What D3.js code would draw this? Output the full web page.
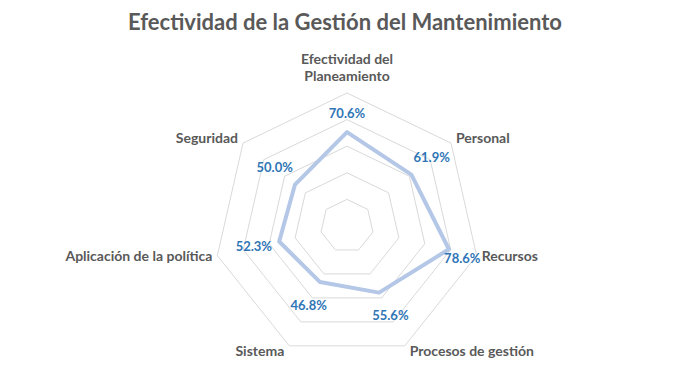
<!DOCTYPE html>
<html>
<head>
<meta charset="utf-8">
<script src="https://cdn.jsdelivr.net/npm/d3@7"></script>
<style>
  body { margin: 0; background: #fff; }
  svg text { font-family: Lato, "Open Sans", sans-serif; }
</style>
</head>
<body>
<svg id="chart" width="697" height="375"></svg>
<script>
// categories and values
const categories = ["Efectividad del Planeamiento", "Personal", "Recursos", "Procesos de gestión",
                    "Sistema", "Aplicación de la política", "Seguridad"];
const catLines = [["Efectividad del", "Planeamiento"], ["Personal"], ["Recursos"], ["Procesos de gestión"],
                  ["Sistema"], ["Aplicación de la política"], ["Seguridad"]];
const values = [0.706, 0.619, 0.786, 0.556, 0.468, 0.523, 0.500];
const gridLevels = [0.2, 0.4, 0.6, 0.8, 1.0];
const chartTitle = "Efectividad de la Gestión del Mantenimiento";

const cx = 347, cy = 226, R = 133;
const svg = d3.select("#chart");

var r = d3.scaleLinear().domain([0, 1]).range([0, R]);
var angle = d3.scaleLinear().domain([0, categories.length]).range([-Math.PI / 2, 1.5 * Math.PI]);

function pt(i, v) {
    return [cx + r(v) * Math.cos(angle(i)), cy + r(v) * Math.sin(angle(i))];
}

svg.append("text")
    .attr("x", 345)
    .attr("y", 30)
    .attr("text-anchor", "middle")
    .attr("font-size", "22px")
    .attr("font-weight", "bold")
    .attr("fill", "#595959")
    .text(chartTitle);

// grid rings
svg.selectAll(".ring")
    .data(gridLevels)
    .enter().append("polygon")
        .attr("class", "ring")
        .attr("points", lv => categories.map((c, i) => pt(i, lv).join(",")).join(" "))
        .attr("fill", "none")
        .attr("stroke", "#d9d9d9")
        .attr("stroke-width", 1)

// series line
var line = d3.line().curve(d3.curveLinearClosed);
svg.append("path")
    .attr("d", line(values.map((v, i) => pt(i, v))))
    .attr("fill", "none")
    .attr("stroke", "#b4c7e7")
    .attr("stroke-width", 4)
    .attr("stroke-linejoin", "round")

// category labels
var cat = svg.selectAll(".clabel")
    .data(catLines)
    .enter().append("text")
        .attr("class", "clabel")
        .attr("font-size", "14px")
        .attr("font-weight", "bold")
        .attr("fill", "#595959")
        .attr("text-anchor", (d, i) => {
            var c = Math.cos(angle(i));
            return c > 0.1 ? "start" : (c < -0.1 ? "end" : "middle");
        })
        .attr("transform", (d, i) => {
            var p = pt(i, 1), c = Math.cos(angle(i)), s = Math.sin(angle(i));
            var x = p[0] + (c > 0.1 ? 5 : (c < -0.1 ? -5 : 0));
            var y;
            if (s < -0.9) y = p[1] - 12 - (d.length - 1) * 17;
            else if (s < -0.5) y = p[1];
            else if (s > 0.5) y = p[1] + 10;
            else y = p[1] + 5;
            return "translate(" + x + "," + y + ")";
        })

cat.selectAll("tspan")
    .data(d => d)
    .enter().append("tspan")
        .attr("x", 0)
        .attr("dy", (d, j) => j === 0 ? 0 : 17)
        .text(d => d)

// data labels, pushed out along the spoke
var catNodes = cat.nodes();
svg.selectAll(".dlabel")
    .data(values)
    .enter().append("text")
        .attr("class", "dlabel")
        .attr("text-anchor", "middle")
        .attr("font-size", "13px")
        .attr("font-weight", "bold")
        .attr("fill", "#2e75b6")
        .text(v => d3.format(".1%")(v))
        .each(function(v, i) {
            var s = Math.sin(angle(i));
            var off = s < -0.9 ? 18 : 26;
            var x = cx + (r(v) + off) * Math.cos(angle(i));
            var y = cy + (r(v) + off) * Math.sin(angle(i)) + 4;
            var t = d3.select(this).attr("x", x).attr("y", y);
            // keep clear of the category label, as Excel does
            var b = this.getBBox();
            var cb = catNodes[i].getBoundingClientRect();
            if (b.x + b.width > cb.left && b.x < cb.right && b.y + b.height > cb.top && b.y < cb.bottom) {
                t.attr("x", cb.left - b.width / 2 - 1).attr("y", cb.bottom - 1);
            }
        })
</script>
</body>
</html>
